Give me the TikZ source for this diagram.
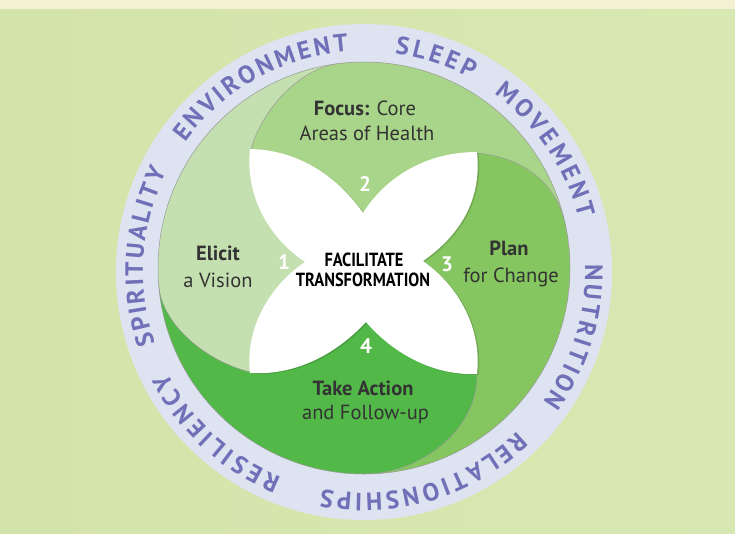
\documentclass[tikz,border=0pt]{standalone}
\usepackage{fontspec}
\setmainfont{PT Sans}
\newfontfamily\ctrfont[FakeStretch=0.86]{PT Sans}
\usetikzlibrary{decorations.text,calc}
\definecolor{bgc}{HTML}{D3E4AA}
\definecolor{bgr}{HTML}{D8E8B2}
\definecolor{topc}{HTML}{F3F1D4}
\definecolor{ringc}{HTML}{DDE3F0}
\definecolor{ringt}{HTML}{7070B8}
\definecolor{elicitc}{HTML}{C5E0B0}
\definecolor{focusc}{HTML}{A9D58A}
\definecolor{planc}{HTML}{85C660}
\definecolor{actionc}{HTML}{52B848}
\definecolor{txt}{HTML}{333333}
\newcommand\ringstyle{\color{ringt}\bfseries\fontsize{25}{25}\selectfont}
\def\flowerpath{(363,213) .. controls (385,178) and (425,152) .. (477,152)
  .. controls (482,200) and (460,235) .. (423,261)
  .. controls (460,287) and (482,330) .. (477,374)
  .. controls (430,376) and (390,350) .. (366,322)
  .. controls (340,350) and (300,376) .. (250,373)
  .. controls (245,330) and (268,287) .. (305,262)
  .. controls (268,237) and (245,195) .. (250,149)
  .. controls (302,150) and (340,180) .. (363,213) -- cycle}
\begin{document}
\begin{tikzpicture}[x=1pt,y=-1pt,
  lbl/.style={font=\fontsize{20.5}{24}\selectfont, text=txt, inner sep=0pt},
  ctr/.style={font=\ctrfont\bfseries\fontsize{19}{20}\selectfont, text=black, inner sep=0pt},
  num/.style={font=\bfseries\fontsize{21}{21}\selectfont, text=white, inner sep=0pt},
  edge/.style={draw=black!40, line width=0.5pt}]
\path[use as bounding box] (0,0) rectangle (735,533);
\shade[left color=bgc, right color=bgr] (0,0) rectangle (735,533);
\fill[topc] (0,0) rectangle (735,9);
% ring
\fill[ringc] (364,272) circle[radius=248];
% disk geometry
\coordinate (O) at (364,268);
\coordinate (m1) at ($(O)+(-97:206)$);
\coordinate (m2) at ($(O)+(-10:206)$);
\coordinate (m3) at ($(O)+(90:206)$);
\coordinate (m4) at ($(O)+(175:206)$);
\coordinate (c1) at (251,149);
\coordinate (c2) at (477,153);
\coordinate (c3) at (477,374);
\coordinate (c4) at (250,372);
\begin{scope}
\clip (O) circle[radius=206];
\fill[elicitc] (O) circle[radius=206];
\fill[focusc] (c1) .. controls (262,110) and (299,68.4) .. (m1)
  arc[start angle=-97, end angle=-10, radius=206]
  .. controls (561,190) and (530,158) .. (c2) -- (O) -- cycle;
\fill[planc] (c2) .. controls (530,158) and (561,190) .. (m2)
  arc[start angle=-10, end angle=90, radius=206]
  .. controls (420,474) and (478,430) .. (c3) -- (O) -- cycle;
\fill[actionc] (c3) .. controls (478,430) and (420,474) .. (m3)
  arc[start angle=90, end angle=175, radius=206]
  .. controls (162.3,326) and (208,362) .. (c4) -- (O) -- cycle;
\path[edge] (c1) .. controls (262,110) and (299,68.4) .. (m1);
\path[edge] (c2) .. controls (530,158) and (561,190) .. (m2);
\path[edge] (c3) .. controls (478,430) and (420,474) .. (m3);
\path[edge] (c4) .. controls (208,362) and (162.3,326) .. (m4);
\end{scope}
\path[edge] (O) circle[radius=206];
% flower
\fill[black, opacity=0.15, xshift=1.5pt, yshift=-0.8pt] \flowerpath;
\fill[white] \flowerpath;
% labels
\node[lbl, anchor=base] (f1) at (365,115) {\textbf{Focus:} Core};
\node[lbl, anchor=base] (f2) at (367,140) {Areas of Health};
\node[lbl, anchor=base] (e1) at (218,260) {\textbf{Elicit}};
\node[lbl, anchor=base] (e2) at (218,287) {a Vision};
\node[lbl, anchor=base] (p1) at (509,255) {\textbf{Plan}};
\node[lbl, anchor=base] (p2) at (511,282) {for Change};
\node[lbl, anchor=base] (a1) at (363,395) {\textbf{Take Action}};
\node[lbl, anchor=base] (a2) at (365.5,419) {and Follow-up};
\node[ctr, anchor=base] (t1) at (364,266) {FACILITATE};
\node[ctr, anchor=base] (t2) at (363,286) {TRANSFORMATION};
\node[num, anchor=base] (n1) at (284,269) {1};
\node[num, anchor=base] (n2) at (365,191) {2};
\node[num, anchor=base] (n3) at (447,271) {3};
\node[num, anchor=base] (n4) at (366,353) {4};
% ring words
\begin{scope}[shift={(364,272)}, y=1pt]
\path[decorate, decoration={text along path, text={|\ringstyle|SPIRITUALITY}, text align=fit to path}] (199:221) arc[start angle=199, end angle=153, radius=221];
\path[decorate, decoration={text along path, text={|\ringstyle|ENVIRONMENT}, text align=fit to path}] (144:221) arc[start angle=144, end angle=94, radius=221];
\path[decorate, decoration={text along path, text={|\ringstyle|SLEEP}, text align=fit to path}] (82:221) arc[start angle=82, end angle=61, radius=221];
\path[decorate, decoration={text along path, text={|\ringstyle|MOVEMENT}, text align=fit to path}] (54:221) arc[start angle=54, end angle=14, radius=221];
\path[decorate, decoration={text along path, text={|\ringstyle|NUTRITION}, text align=fit to path}] (2:221) arc[start angle=2, end angle=-36, radius=221];
\path[decorate, decoration={text along path, text={|\ringstyle|RELATIONSHIPS}, text align=fit to path}] (-46:221) arc[start angle=-46, end angle=-101, radius=221];
\path[decorate, decoration={text along path, text={|\ringstyle|RESILIENCY}, text align=fit to path}] (-112:221) arc[start angle=-112, end angle=-153, radius=221];
\end{scope}
\end{tikzpicture}
\end{document}
